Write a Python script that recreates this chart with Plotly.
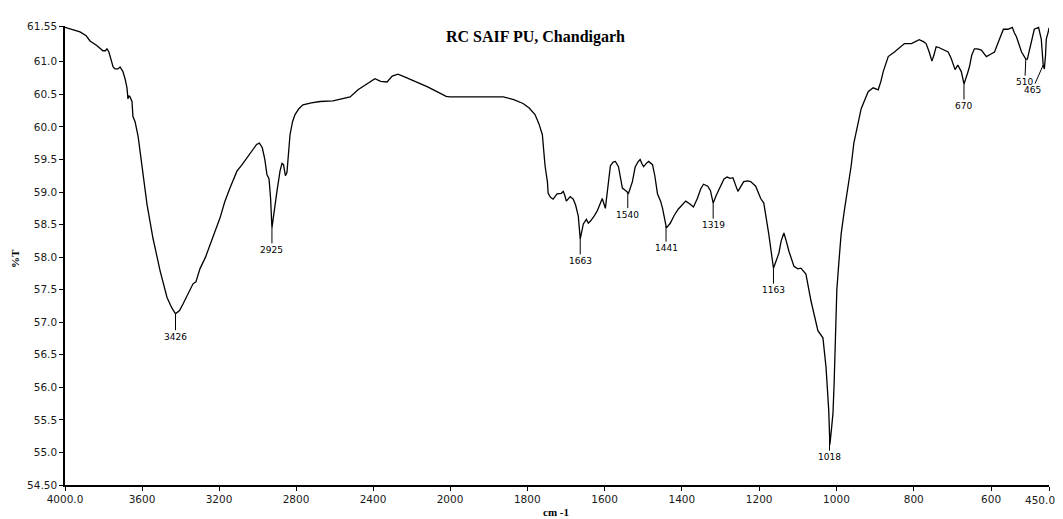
import numpy as np
import plotly.graph_objects as go

# ---- data ----
wavenumber = [4000, 3960, 3922, 3890, 3870, 3835, 3803, 3790, 3782, 3772, 3766, 3750, 3740, 3725, 3714,
              3705, 3699, 3688, 3678, 3673, 3668, 3662, 3652, 3647, 3636, 3620, 3610, 3595, 3574, 3543, 3506,
              3470, 3445, 3426, 3405, 3387, 3360, 3335, 3320, 3299, 3270, 3247, 3220, 3195, 3170, 3143,
              3107, 3080, 3055, 3025, 3005, 2990, 2975, 2962, 2951, 2940, 2932, 2925, 2918, 2910, 2899,
              2883, 2873, 2865, 2855, 2847, 2838, 2831, 2818, 2805, 2785, 2764, 2720, 2675, 2608, 2560,
              2519, 2478, 2440, 2410, 2390, 2360, 2327, 2300, 2270, 2230, 2180, 2119, 2060, 2020, 2000,
              1960, 1922, 1890, 1862, 1835, 1811, 1795, 1780, 1770, 1761, 1754, 1748, 1746, 1740, 1733,
              1723, 1712, 1707, 1703, 1699, 1689, 1681, 1675, 1668, 1663, 1655, 1647, 1642, 1637, 1628,
              1619, 1606, 1598, 1590, 1585, 1578, 1572, 1564, 1554, 1545, 1538, 1528, 1521, 1514, 1508,
              1503, 1499, 1492, 1486, 1476, 1470, 1463, 1455, 1450, 1444, 1440, 1430, 1420, 1409, 1400,
              1390, 1380, 1370, 1360, 1351, 1344, 1333, 1326, 1319, 1311, 1304, 1291, 1283, 1275, 1268,
              1261, 1255, 1248, 1240, 1230, 1222, 1209, 1196, 1188, 1175, 1163, 1155, 1149, 1143, 1136,
              1130, 1123, 1110, 1100, 1092, 1079, 1066, 1053, 1048, 1035, 1027, 1020, 1017, 1013, 1009,
              1006, 1004, 1002, 999, 994, 988, 980, 970, 962, 955, 945, 936, 918, 905, 892,
              885, 879, 866, 850, 835, 824, 806, 786, 775, 768, 760, 753, 748, 742, 735,
              729, 720, 711, 703, 693, 686, 677, 670, 666, 661, 656, 650, 643, 635, 625,
              618, 612, 600, 591, 580, 568, 556, 545, 540, 534, 521, 510, 506, 500, 496,
              488, 477, 470, 465, 462, 459, 457, 452, 450]
transmittance = [61.53, 61.50, 61.46, 61.40, 61.32, 61.25, 61.17, 61.17, 61.20, 61.15, 61.08, 60.92, 60.89, 60.89, 60.92,
                 60.88, 60.85, 60.74, 60.60, 60.43, 60.48, 60.46, 60.39, 60.16, 60.08, 59.85, 59.63, 59.25, 58.81, 58.29, 57.79,
                 57.38, 57.22, 57.13, 57.18, 57.28, 57.45, 57.59, 57.62, 57.82, 58.00, 58.20, 58.40, 58.60, 58.85, 59.06,
                 59.32, 59.42, 59.52, 59.65, 59.73, 59.75, 59.68, 59.50, 59.27, 59.20, 58.90, 58.45, 58.60, 58.85, 59.01,
                 59.32, 59.44, 59.42, 59.25, 59.30, 59.70, 59.88, 60.08, 60.19, 60.28, 60.34, 60.37, 60.39, 60.40, 60.43,
                 60.46, 60.57, 60.64, 60.70, 60.74, 60.70, 60.69, 60.78, 60.81, 60.76, 60.70, 60.62, 60.53, 60.47, 60.46,
                 60.46, 60.47, 60.47, 60.46, 60.42, 60.36, 60.29, 60.19, 60.05, 59.88, 59.40, 59.16, 58.98, 58.92, 58.89,
                 58.97, 58.98, 59.01, 58.95, 58.86, 58.93, 58.89, 58.80, 58.63, 58.28, 58.51, 58.58, 58.52, 58.55, 58.62,
                 58.71, 58.90, 58.75, 59.16, 59.40, 59.46, 59.47, 59.39, 59.06, 59.02, 58.98, 59.16, 59.38, 59.46, 59.50,
                 59.43, 59.39, 59.44, 59.47, 59.42, 59.25, 58.97, 58.86, 58.75, 58.55, 58.45, 58.52, 58.64, 58.74, 58.80,
                 58.86, 58.82, 58.77, 58.90, 59.05, 59.12, 59.09, 59.02, 58.83, 58.95, 59.04, 59.20, 59.23, 59.21, 59.22,
                 59.10, 59.01, 59.08, 59.16, 59.17, 59.16, 59.09, 58.90, 58.83, 58.35, 57.83, 57.95, 58.06, 58.25, 58.37,
                 58.25, 58.09, 57.86, 57.82, 57.83, 57.74, 57.33, 57.02, 56.87, 56.76, 56.31, 55.65, 55.12, 55.35, 55.60,
                 56.06, 56.57, 57.00, 57.50, 57.90, 58.35, 58.70, 59.06, 59.40, 59.75, 60.05, 60.28, 60.54, 60.60, 60.57,
                 60.70, 60.85, 61.08, 61.15, 61.22, 61.28, 61.28, 61.34, 61.31, 61.28, 61.15, 61.01, 61.10, 61.23, 61.22,
                 61.20, 61.17, 61.15, 61.05, 60.88, 60.95, 60.85, 60.66, 60.75, 60.82, 60.92, 61.10, 61.20, 61.20, 61.18,
                 61.12, 61.08, 61.12, 61.15, 61.32, 61.50, 61.50, 61.53, 61.45, 61.38, 61.15, 61.04, 61.04, 61.20, 61.31,
                 61.50, 61.53, 61.35, 60.95, 60.89, 61.10, 61.35, 61.46, 61.52]

peak_labels = ["3426", "2925", "1663", "1540", "1441", "1319", "1163", "1018", "670", "510", "465"]
peak_wn = [3426, 2925, 1663, 1540, 1441, 1319, 1163, 1018, 670, 510, 465]

x_ticks_high = [4000, 3600, 3200, 2800, 2400]
x_ticktext_high = ["4000.0", "3600", "3200", "2800", "2400"]
x_ticks_low = [2000, 1800, 1600, 1400, 1200, 1000, 800, 600, 450]
x_ticktext_low = ["2000", "1800", "1600", "1400", "1200", "1000", "800", "600", "450.0"]
y_ticks = [61.55, 61.0, 60.5, 60.0, 59.5, 59.0, 58.5, 58.0, 57.5, 57.0, 56.5, 56.0, 55.5, 55.0, 54.5]
y_ticktext = ["61.55", "61.0", "60.5", "60.0", "59.5", "59.0", "58.5", "58.0", "57.5", "57.0",
              "56.5", "56.0", "55.5", "55.0", "54.50"]

# ---- build ----
wn = np.array(wavenumber, dtype=float)
tr = np.array(transmittance, dtype=float)
hi = wn >= 2000
lo = wn <= 2000

PLOT_W = 984
PLOT_H = 461
SPLIT = 385 / PLOT_W  # the scale changes at 2000 cm-1

fig = go.Figure()
line_style = dict(color="black", width=1.3)
fig.add_trace(go.Scatter(x=wn[hi], y=tr[hi], mode="lines", line=line_style,
                         xaxis="x", yaxis="y", showlegend=False, hoverinfo="x+y"))
fig.add_trace(go.Scatter(x=wn[lo], y=tr[lo], mode="lines", line=line_style,
                         xaxis="x2", yaxis="y", showlegend=False, hoverinfo="x+y"))

tick_font = dict(family="DejaVu Sans", size=10.5, color="#1a1a1a")
axis_common = dict(showline=True, linecolor="black", linewidth=1.5, ticks="outside",
                   ticklen=4, tickwidth=1.2, tickcolor="black", showgrid=False,
                   zeroline=False, tickfont=tick_font)

# the last tick label sits at the very edge of the page: draw it as right-aligned text
low_ticktext_axis = [t if v != 450 else "" for v, t in zip(x_ticks_low, x_ticktext_low)]

# peak labels
order_asc = np.argsort(wn)
offsets = {"3426": (0, 23), "1018": (0, 24), "510": (-1, 23), "465": (-11, 25)}
annotations = []
for lab, p in zip(peak_labels, peak_wn):
    yv = float(np.interp(p, wn[order_asc], tr[order_asc]))
    ax, ay = offsets.get(lab, (0, 22))
    annotations.append(dict(x=p, y=yv, xref="x" if p > 2000 else "x2", yref="y",
                            text=lab, showarrow=True, arrowhead=0, arrowwidth=1,
                            arrowcolor="black", ax=ax, ay=ay, standoff=0,
                            font=dict(family="DejaVu Sans", size=9, color="black")))

annotations.append(dict(x=450, y=-(500 - 485) / PLOT_H, xref="x2", yref="paper",
                        xanchor="right", yanchor="middle", xshift=8,
                        text=x_ticktext_low[-1], showarrow=False, font=tick_font))
annotations.append(dict(x=(535 - 65) / PLOT_W, y=1 - 11 / PLOT_H, xref="paper", yref="paper",
                        xanchor="center", yanchor="middle",
                        text="<b>RC SAIF PU, Chandigarh</b>", showarrow=False,
                        font=dict(family="Liberation Serif", size=16, color="black")))
annotations.append(dict(x=-50 / PLOT_W, y=1 - (258 - 24) / PLOT_H, xref="paper", yref="paper",
                        xanchor="center", yanchor="middle",
                        text="<b>%T</b>", showarrow=False, textangle=-90,
                        font=dict(family="Liberation Serif", size=11, color="black")))
annotations.append(dict(x=(556 - 65) / PLOT_W, y=-(512 - 485) / PLOT_H, xref="paper", yref="paper",
                        xanchor="center", yanchor="middle",
                        text="<b>cm -1</b>", showarrow=False,
                        font=dict(family="Liberation Serif", size=11, color="black")))

# the page body adds an 8px offset, so the figure is 8px smaller and shifted accordingly
fig.update_layout(
    width=1055, height=511,
    margin=dict(l=57, r=1055 - 57 - PLOT_W, t=16, b=511 - 16 - PLOT_H),
    paper_bgcolor="white", plot_bgcolor="white",
    xaxis=dict(domain=[0, SPLIT], range=[4000, 2000], anchor="y",
               tickvals=x_ticks_high, ticktext=x_ticktext_high, **axis_common),
    xaxis2=dict(domain=[SPLIT, 1], range=[2000, 450], anchor="y",
                tickvals=x_ticks_low, ticktext=low_ticktext_axis, **axis_common),
    yaxis=dict(range=[54.5, 61.55], tickvals=y_ticks, ticktext=y_ticktext, **axis_common),
    annotations=annotations,
)

fig.write_html("out.html")
